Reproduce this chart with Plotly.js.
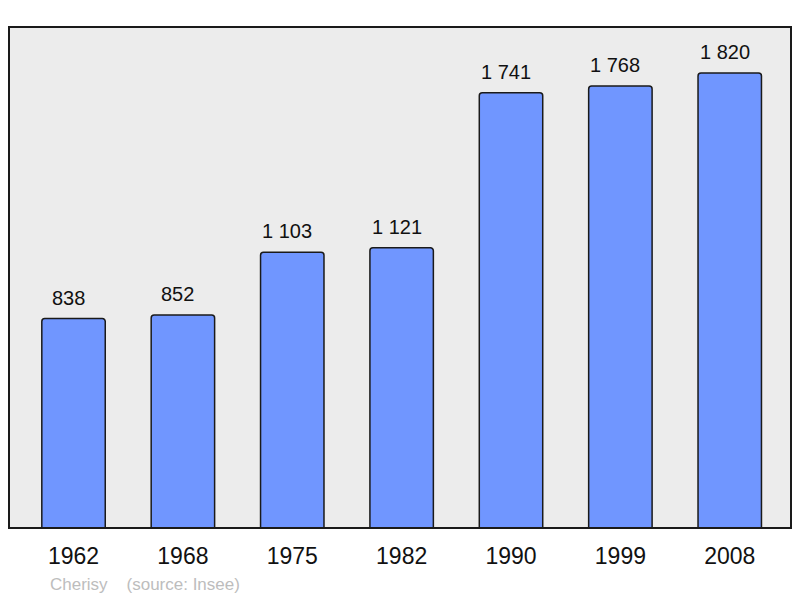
<!DOCTYPE html>
<html>
<head>
<meta charset="utf-8">
<script src="https://cdn.plot.ly/plotly-3.0.1.min.js"></script>
<style>html,body{margin:0;padding:0;background:#fff;}#chart{width:800px;height:598px;}</style>
</head>
<body>
<div id="chart"></div>
<script>
const years = ["1962", "1968", "1975", "1982", "1990", "1999", "2008"];
const population = [838, 852, 1103, 1121, 1741, 1768, 1820];
const valueLabels = ["838", "852", "1 103", "1 121", "1 741", "1 768", "1 820"];
const footnote = "Cherisy &nbsp;&nbsp;&nbsp;(source: Insee)";

const trace = {
  type: "bar",
  x: years,
  y: population,
  width: 0.58,
  marker: {color: "#7096ff", line: {color: "#1a1a1a", width: 1.5}, cornerradius: 3},
  hoverinfo: "skip"
};

const annotations = years.map((yr, i) => ({
  x: i, y: population[i], xref: "x", yref: "y",
  text: valueLabels[i], showarrow: false, yanchor: "bottom", yshift: 8, xshift: -5,
  font: {family: "Liberation Sans, Arial, sans-serif", size: 20, color: "#111"}
}));
annotations.push({
  xref: "paper", yref: "paper", x: 0.05, y: -0.112, xanchor: "left", yanchor: "middle",
  text: footnote, showarrow: false,
  font: {family: "Liberation Sans, Arial, sans-serif", size: 17, color: "#bdbdbd"}
});

const layout = {
  width: 800, height: 598,
  margin: {l: 9, r: 9, t: 27, b: 70},
  paper_bgcolor: "#ffffff",
  plot_bgcolor: "#ececec",
  showlegend: false,
  bargap: 0.4,
  xaxis: {
    type: "category", range: [-0.59, 6.56], showgrid: false, zeroline: false,
    ticks: "", ticklabelstandoff: 12,
    tickfont: {family: "Liberation Sans, Arial, sans-serif", size: 23, color: "#111"},
    fixedrange: true
  },
  yaxis: {
    range: [0, 2004], showgrid: false, zeroline: false, showticklabels: false, ticks: "",
    fixedrange: true
  },
  shapes: [{
    type: "rect", xref: "paper", yref: "paper", x0: 0, x1: 1, y0: 0, y1: 1,
    line: {color: "#1a1a1a", width: 2}, layer: "above"
  }],
  annotations: annotations
};

Plotly.newPlot("chart", [trace], layout, {staticPlot: true, displayModeBar: false});
</script>
</body>
</html>
